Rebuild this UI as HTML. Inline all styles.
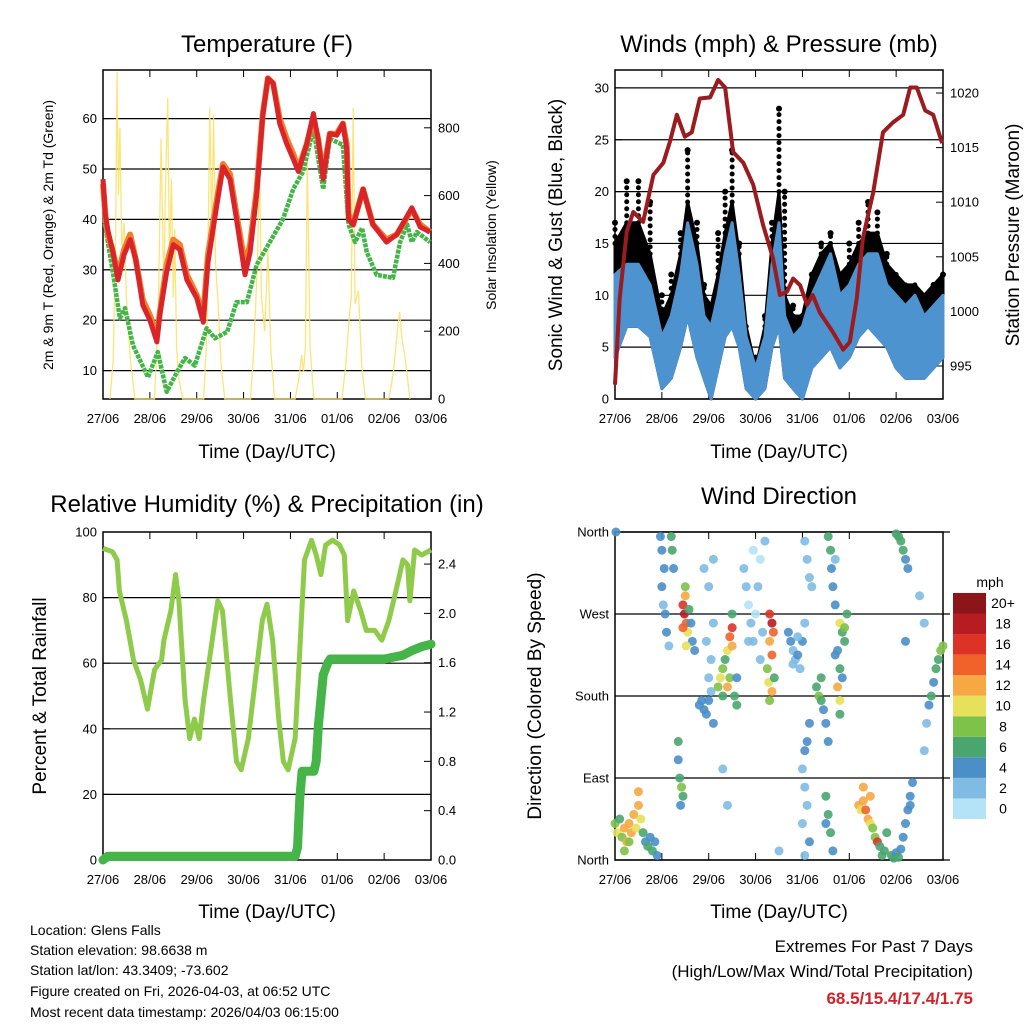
<!DOCTYPE html>
<html><head><meta charset="utf-8"><style>
body{margin:0;background:#fff;}
svg{display:block;font-family:"Liberation Sans",sans-serif;}
</style></head><body>
<svg id="root" width="1024" height="1024" viewBox="0 0 1024 1024">
<g id="static">
<text x="267" y="52" font-size="24" text-anchor="middle">Temperature (F)</text>
<text x="779" y="52" font-size="24" text-anchor="middle">Winds (mph) &amp; Pressure (mb)</text>
<text x="267" y="512" font-size="24" text-anchor="middle">Relative Humidity (%) &amp; Precipitation (in)</text>
<text x="779" y="504" font-size="24" text-anchor="middle">Wind Direction</text>
<text x="267" y="458" font-size="19" text-anchor="middle">Time (Day/UTC)</text>
<text x="779" y="458" font-size="19" text-anchor="middle">Time (Day/UTC)</text>
<text x="267" y="918" font-size="19" text-anchor="middle">Time (Day/UTC)</text>
<text x="779" y="918" font-size="19" text-anchor="middle">Time (Day/UTC)</text>
<text transform="translate(53,235) rotate(-90)" font-size="14" text-anchor="middle">2m &amp; 9m T (Red, Orange) &amp; 2m Td (Green)</text>
<text transform="translate(496,235) rotate(-90)" font-size="14" text-anchor="middle">Solar Insolation (Yellow)</text>
<text transform="translate(562,235) rotate(-90)" font-size="19" text-anchor="middle">Sonic Wind &amp; Gust (Blue, Black)</text>
<text transform="translate(1019,235) rotate(-90)" font-size="19" text-anchor="middle">Station Pressure (Maroon)</text>
<text transform="translate(46,696) rotate(-90)" font-size="19" text-anchor="middle">Percent &amp; Total Rainfall</text>
<text transform="translate(541,696) rotate(-90)" font-size="19" text-anchor="middle">Direction (Colored By Speed)</text>
<text x="990" y="587" font-size="14" text-anchor="middle">mph</text>
<g font-size="14">
<text x="30" y="935">Location: Glens Falls</text>
<text x="30" y="955">Station elevation: 98.6638 m</text>
<text x="30" y="975">Station lat/lon: 43.3409; -73.602</text>
<text x="30" y="996">Figure created on Fri, 2026-04-03, at 06:52 UTC</text>
<text x="30" y="1017">Most recent data timestamp: 2026/04/03 06:15:00</text>
</g>
<text x="973" y="952" font-size="17" text-anchor="end">Extremes For Past 7 Days</text>
<text x="973" y="977" font-size="17" text-anchor="end">(High/Low/Max Wind/Total Precipitation)</text>
<text x="973" y="1004" font-size="17" font-weight="bold" fill="#d0232a" text-anchor="end">68.5/15.4/17.4/1.75</text>
</g>
</svg>
<script>
const dayLabels=["27/06","28/06","29/06","30/06","31/06","01/06","02/06","03/06"];
// Temperature (days, F)
const tempT=[0,0.05,0.1,0.2,0.32,0.45,0.58,0.7,0.85,1.0,1.15,1.22,1.36,1.5,1.64,1.79,2.0,2.14,2.24,2.43,2.56,2.71,2.85,3.03,3.14,3.28,3.41,3.52,3.63,3.77,3.92,4.06,4.17,4.35,4.49,4.59,4.70,4.84,4.99,5.12,5.2,5.24,5.34,5.55,5.76,6.05,6.27,6.59,6.77,6.98];
const tempRed=[48,41,38,34,28,33,36,32,23,20,15.7,21.6,29.6,35,34,28,24.4,19.6,31.5,42.9,50.4,48,40,29,33.5,45,60.7,68,67,59,55,52,49.5,55,61,56,48,57,56.7,59,54,40,38.9,46,39,35.5,37,42.3,38.5,37.5];
const tempOrange=[47,41,37,34,29,34,37,32,24,21,17,22,31,36,35,29,25,21,33,44,51,49,41,31,35,46,61,68,67,60,56,53,50,55,60,56,49,57,57,59,55,41,39,46,39,36,37,42,39,37.5];
const tdT=[0,0.04,0.21,0.36,0.47,0.64,0.96,1.17,1.36,1.58,1.75,1.96,2.21,2.39,2.65,2.85,3.07,3.28,3.56,3.84,4.06,4.27,4.49,4.70,4.84,5.12,5.24,5.38,5.53,5.63,5.84,6.19,6.34,6.49,6.59,6.70,6.98];
const tdVal=[47,39,29.6,20.4,22.4,15,8.7,13.7,5.8,9.7,12.5,11,18.4,16.4,17.7,23.6,23.6,31,35.5,40,46,49.5,58,46,56,54.8,39,35.5,38.3,33.5,29,28.4,35.5,39,35.5,37.5,35.5];
const solarT=[0.15,0.22,0.27,0.3,0.33,0.36,0.4,0.45,0.5,0.58,0.68,1.1,1.18,1.24,1.3,1.33,1.38,1.42,1.46,1.5,1.53,1.57,1.62,1.7,2.15,2.22,2.28,2.32,2.36,2.4,2.45,2.52,2.6,3.15,3.22,3.3,3.34,3.38,3.45,3.52,3.58,3.66,4.1,4.18,4.24,4.28,4.32,4.36,4.42,4.5,5.1,5.18,5.26,5.3,5.34,5.38,5.45,5.52,5.6,6.1,6.2,6.28,6.33,6.38,6.45,6.55];
const solarV=[0,120,500,965,600,800,450,520,300,120,0,0,250,770,300,600,888,400,650,300,500,150,60,0,0,200,860,500,840,400,300,100,0,0,150,420,710,300,200,440,150,0,0,60,130,80,150,710,150,0,0,100,250,300,858,280,320,100,0,0,80,200,257,180,120,0];
// Winds (days, mph / mb)
const windT=[0,0.25,0.5,0.75,1.0,1.2,1.4,1.55,1.75,1.9,2.05,2.2,2.35,2.5,2.65,2.8,3.0,3.2,3.35,3.5,3.62,3.8,4.0,4.2,4.4,4.6,4.8,5.0,5.2,5.4,5.6,5.8,6.0,6.2,6.4,6.6,6.8,7.0];
const windHi=[12,13,13,11,6,8,12,17,13,8,7,10,14,17,12,6,3,6,13,17,8,6,7,10,12,14,10,11,13,14,14,11,10,9,10,8,9,10];
const windLo=[4,7,7,6,1,2,5,8,4,2,0,3,6,7,5,1,0,1,5,7,2,1,0,3,4,5,3,4,6,7,6,5,3,2,2,2,3,4];
const gustMid=[15,17,17,14,8,10,14,19,15,10,9,12,16,19,14,7,3,7,15,20,10,8,8,12,14,15,12,13,15,16,16,13,12,11,11,10,11,12];
const gustHi=[17,21,21,19,10,12,16,24,17,11,9,16,20,24,15,6,4,8,17,28,20,9,8,12,15,16,12,15,17,19,18,14,11,10,10,9,11,12];
const presT=[0,0.1,0.25,0.39,0.6,0.82,1.03,1.17,1.32,1.49,1.64,1.81,2.03,2.2,2.35,2.52,2.74,2.95,3.16,3.37,3.52,3.67,3.8,3.95,4.1,4.22,4.37,4.65,4.87,5.01,5.16,5.29,5.51,5.72,5.93,6.15,6.3,6.44,6.62,6.79,6.98];
const presV=[993.3,1001.2,1007.3,1009.1,1008.2,1012.5,1013.6,1015.5,1018,1016,1016.4,1019.5,1019.6,1021.2,1020.5,1014.6,1013.6,1011.6,1007.9,1004.9,1001.5,1001.8,1003,1002.4,1000.6,1001.5,999.9,998.1,996.5,997.2,1001.2,1006.7,1010.9,1016.4,1017.3,1018,1020.5,1020.5,1018.4,1018,1015.4];
// Humidity & precipitation
const rhT=[0,0.2,0.3,0.35,0.5,0.65,0.8,0.95,1.1,1.25,1.3,1.45,1.55,1.62,1.75,1.85,1.95,2.05,2.15,2.3,2.45,2.55,2.7,2.85,2.95,3.1,3.25,3.4,3.5,3.62,3.75,3.85,3.95,4.1,4.2,4.3,4.45,4.55,4.65,4.75,4.9,5.05,5.15,5.22,5.35,5.5,5.62,5.8,5.95,6.1,6.25,6.4,6.5,6.55,6.65,6.8,7.0];
const rhVal=[95,94,91.5,82,73,61,55,46,58,61,67,76,87,79,49,37,43,37,49,64,79,76,52,30,27.5,37,55,73,78,67,43,30,27.5,37,64,91.5,97.5,93,87,96,97.5,96,93,73,82,76,70,70,67,73,82,91.5,90,79,94.5,93,94.5];
const prT=[0,0.1,4.1,4.15,4.2,4.25,4.5,4.55,4.6,4.7,4.8,4.85,6.0,6.4,6.6,6.8,7.0];
const prVal=[0,0.03,0.03,0.1,0.5,0.72,0.72,0.8,1.1,1.5,1.6,1.63,1.63,1.66,1.7,1.73,1.75];
// Wind direction scatter (days, degrees, mph)
const dirT=[0,0.05,0.1,0.15,0.2,0.25,0.3,0.35,0.4,0.45,0.5,0.55,0.6,0.65,0.7,0.75,0.8,0.85,0.9,0.5,0.3,0.2,
0.97,1.0,1.05,1.0,1.03,1.07,1.1,1.15,1.2,1.22,1.25,
1.45,1.48,1.5,1.52,1.55,1.5,1.58,1.62,1.65,1.7,1.45,1.52,
1.35,1.38,1.42,1.45,1.4,1.35,
1.85,1.9,1.95,2.0,2.05,1.8,2.1,2.0,2.05,1.95,2.1,1.9,2.0,2.1,
2.2,2.25,2.3,2.35,2.4,2.45,2.5,2.5,2.45,2.55,2.6,2.6,2.3,2.4,2.5,
2.75,2.8,2.85,2.9,2.95,3.0,3.05,3.1,3.15,2.95,3.1,2.85,3.2,
3.3,3.35,3.38,3.3,3.25,3.28,3.35,3.4,3.3,3.35,
3.7,3.75,3.8,3.85,3.9,3.95,4.0,4.05,3.8,3.9,
4.0,4.05,4.1,4.0,4.15,4.05,4.1,4.15,4.05,
4.3,4.35,4.4,4.45,4.5,4.55,4.4,
4.05,4.1,4.15,4.2,
4.55,4.6,4.62,4.65,4.7,
4.5,4.55,4.6,4.65,4.5,
4.8,4.85,4.9,4.75,4.8,4.85,4.75,4.8,4.9,4.95,4.7,4.8,
5.2,5.25,5.3,5.35,5.4,5.45,5.5,5.55,5.6,5.65,5.7,5.3,5.45,5.75,5.8,
5.9,5.95,6.0,6.05,6.1,6.15,6.2,6.25,6.3,6.35,6.3,
6.0,6.05,6.1,6.15,6.2,6.25,
6.7,6.75,6.8,6.85,6.9,6.95,7.0,6.65,6.6,
0.02,3.5,2.4,2.3,4.7,6.5,6.2,6.6];
const dirD=[40,30,45,25,35,20,40,30,50,35,60,45,30,20,15,25,10,20,5,75,20,10,
355,340,320,300,280,270,250,235,355,340,320,
280,270,290,260,250,300,275,260,240,230,255,235,
110,90,80,70,60,130,
175,165,160,175,185,170,150,200,220,240,260,320,300,330,
190,200,210,220,230,245,255,235,200,180,200,170,180,190,270,
320,300,280,260,240,270,300,330,250,340,220,240,350,
270,260,250,240,210,195,185,200,175,225,
250,240,230,220,225,210,240,260,215,245,
100,80,60,40,20,5,130,150,120,
190,180,175,165,150,130,200,
350,330,310,300,
355,340,320,300,280,
70,50,30,10,40,
260,250,240,230,210,200,190,175,255,270,225,160,
60,55,65,55,45,40,35,25,20,15,5,80,70,10,30,
5,2,8,3,12,25,40,55,70,85,60,
358,355,350,340,330,320,
170,180,195,210,220,230,235,150,120,
360,10,60,100,330,290,240,260];
const dirS=[8,10,6,8,12,12,11,12,12,10,12,10,6,4,5,4,6,4,3,12,8,8,
4,3,4,3,2,4,3,1,6,6,4,
16,18,12,14,10,8,6,4,4,4,14,10,
4,6,8,6,4,6,
4,4,3,4,2,4,3,2,2,2,2,2,2,2,
8,10,8,6,10,14,16,12,8,6,4,6,6,12,6,
1,1,0,1,1,0,1,0,1,0,1,1,1,
16,18,14,12,8,10,12,6,8,14,
4,3,2,2,4,2,4,2,2,2,
2,2,2,2,3,2,3,4,4,
6,8,6,4,4,4,6,
1,2,2,1,
6,6,4,4,4,
6,6,6,4,4,
10,6,6,4,6,4,12,10,8,6,4,6,
12,10,12,14,12,10,8,8,16,6,6,12,12,6,6,
6,6,4,6,4,4,4,4,4,4,4,
6,6,6,6,4,4,
4,6,4,6,6,8,8,2,2,
4,1,1,1,2,1,4,1];
const speedLabels=["0","2","4","6","8","10","12","14","16","18","20+"];
const speedColors=["#b4e2f7","#7fbbe3","#4a8fc8","#4aa66e","#7ec24a","#e6e05a","#f6a843","#f0622a","#dd3327","#b71c22","#8b1518"];

const NS="http://www.w3.org/2000/svg";
const root=document.getElementById('root');
function mk(tag,attrs,parent){const e=document.createElementNS(NS,tag);for(const k in attrs)e.setAttribute(k,attrs[k]);(parent||root).appendChild(e);return e;}

function panel(px,py,w,h){return{x:d=>px+d*w/7,L:px,R:px+w,T:py,B:py+h};}
const P1=panel(103,70,328,329),P2=panel(615,70,328,329),P3=panel(103,532,328,328),P4=panel(615,532,328,328);
const t1=v=>421-v*5.04, s1=v=>399-v*0.339;
const w2=v=>399-v*10.37, p2=v=>366-(v-995)*10.92;
const r3=v=>860-v*3.28, q3=v=>860-v*123.3;
const d4=v=>860-v*328/360;

function path(P,ts,vs,yf){return ts.map((t,i)=>(i?'L':'M')+P.x(t).toFixed(1)+','+yf(vs[i]).toFixed(1)).join(' ');}

function frame(P,name,grid,yf,lefts,rights,ryf,gridRight){
  const g=mk('g',{});
  
  
  grid.forEach(v=>{const l=mk('line',{x1:P.L,x2:gridRight||P.R,y1:yf(v),y2:yf(v),stroke:'#000','stroke-width':1.2},g);
    
    });
  const r=mk('rect',{x:P.L,y:P.T,width:P.R-P.L,height:P.B-P.T,fill:'none',stroke:'#000','stroke-width':1.5},g);
  
  
  for(let d=0;d<=7;d++){const x=P.x(d);
    mk('line',{x1:x,x2:x,y1:P.B,y2:P.B-7,stroke:'#000'},g);mk('line',{x1:x,x2:x,y1:P.T,y2:P.T+7,stroke:'#000'},g);
    const t=mk('text',{x:x,y:P.B+24,'font-size':13,'text-anchor':'middle'},g);t.textContent=dayLabels[d];
    
    }
  lefts.forEach(([v,lab])=>{const y=yf(v);mk('line',{x1:P.L,x2:P.L+7,y1:y,y2:y,stroke:'#000'},g);
    const t=mk('text',{x:P.L-6,y:y+4.5,'font-size':13,'text-anchor':'end'},g);t.textContent=lab;
    
    });
  rights.forEach(([v,lab])=>{const y=ryf(v);mk('line',{x1:P.R,x2:P.R-7,y1:y,y2:y,stroke:'#000'},g);
    const t=mk('text',{x:P.R+7,y:y+4.5,'font-size':13,'text-anchor':'start'},g);t.textContent=lab;
    
    });
  return g;
}

// Panel 1
frame(P1,'temperature',[10,20,30,40,50,60],t1,[10,20,30,40,50,60].map(v=>[v,String(v)]),[0,200,400,600,800].map(v=>[v,String(v)]),s1);
let e;
e=mk('path',{d:path(P1,solarT,solarV,s1),fill:'none',stroke:'#fbe26a','stroke-width':1.3,opacity:0.9});


e=mk('path',{d:path(P1,tdT,tdVal,t1),fill:'none',stroke:'#46b549','stroke-width':4.5,'stroke-dasharray':'4 1','stroke-linejoin':'round'});


e=mk('path',{d:path(P1,tempT,tempOrange,t1),fill:'none',stroke:'#f47e2a','stroke-width':6,'stroke-linejoin':'round'});


e=mk('path',{d:path(P1,tempT,tempRed,t1),fill:'none',stroke:'#d9252a','stroke-width':5,'stroke-linejoin':'round'});



// Panel 2
frame(P2,'winds',[0,5,10,15,20,25,30],w2,[0,5,10,15,20,25,30].map(v=>[v,String(v)]),[995,1000,1005,1010,1015,1020].map(v=>[v,String(v)]),p2);
function band(hi,lo){let s=windT.map((t,i)=>(i?'L':'M')+P2.x(t).toFixed(1)+','+w2(hi[i]).toFixed(1)).join(' ');
  for(let i=windT.length-1;i>=0;i--)s+=' L'+P2.x(windT[i]).toFixed(1)+','+w2(lo[i]).toFixed(1);return s+' Z';}
windT.forEach((t,i)=>{const l=mk('line',{x1:P2.x(t),x2:P2.x(t),y1:w2(gustMid[i]),y2:w2(gustHi[i]),stroke:'#000','stroke-width':5,'stroke-linecap':'round','stroke-dasharray':'0 7'});
  
  
  const c=mk('circle',{cx:P2.x(t),cy:w2(gustHi[i]),r:3,fill:'#000'});
  
  });
e=mk('path',{d:band(gustMid,windLo),fill:'#000',stroke:'#000','stroke-width':3,'stroke-linejoin':'round'});


e=mk('path',{d:band(windHi,windLo),fill:'#4d93cf',stroke:'#4d93cf','stroke-width':3,'stroke-linejoin':'round'});


e=mk('path',{d:path(P2,presT,presV,p2),fill:'none',stroke:'#9b1b1e','stroke-width':4,'stroke-linejoin':'round'});



// Panel 3
frame(P3,'humidity',[20,40,60,80],r3,[0,20,40,60,80,100].map(v=>[v,String(v)]),[0,0.4,0.8,1.2,1.6,2.0,2.4].map(v=>[v,v.toFixed(1)]),q3);
e=mk('path',{d:path(P3,rhT,rhVal,r3),fill:'none',stroke:'#8fcb4a','stroke-width':5,'stroke-linejoin':'round'});


e=mk('path',{d:path(P3,prT,prVal,q3),fill:'none',stroke:'#46b549','stroke-width':9,'stroke-linejoin':'round','stroke-linecap':'round'});



// Panel 4
frame(P4,'direction',[0,90,180,270,360],d4,[[0,'North'],[90,'East'],[180,'South'],[270,'West'],[360,'North']],[],d4,950);
function colorFor(s){let i=Math.min(10,Math.max(0,Math.round(s/2)));return speedColors[i];}
dirT.forEach((t,i)=>{const c=mk('circle',{cx:P4.x(t),cy:d4(dirD[i]),r:4.5,fill:colorFor(dirS[i]),opacity:0.9});
  
  });
const cb=mk('g',{});


speedColors.forEach((c,i)=>{const y=819-(i+1)*20.55;
  const r=mk('rect',{x:953,y:y,width:33,height:20.55,fill:c},cb);
  
  
  const t=mk('text',{x:1003,y:y+15,'font-size':14,'text-anchor':'middle'},cb);t.textContent=speedLabels[i];
  
  });
</script>
</body></html>
